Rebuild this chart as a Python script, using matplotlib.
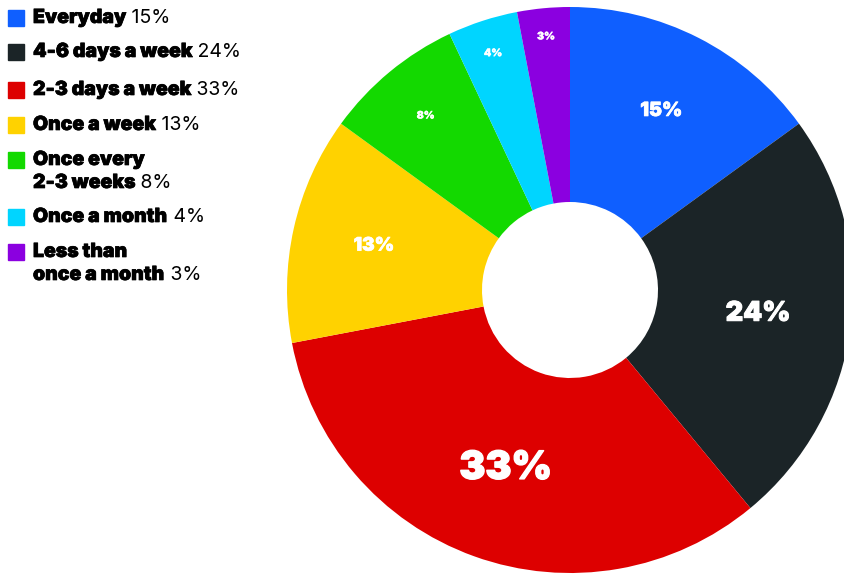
import numpy as np
import matplotlib
matplotlib.use("Agg")
import matplotlib.pyplot as plt
import matplotlib.patheffects as pe
from matplotlib.text import Annotation

labels = ["Everyday", "4-6 days a week", "2-3 days a week", "Once a week",
          "Once every\n2-3 weeks", "Once a month", "Less than\nonce a month"]
values = [15, 24, 33, 13, 8, 4, 3]
colors = ["#0f5fff", "#1b2427", "#dd0000", "#ffd200", "#13d900", "#00d5ff", "#8b00e0"]

# label styling per slice (radius as fraction, font size)
label_r = [0.71, 0.67, 0.67, 0.71, 0.80, 0.88, 0.90]
label_fs = [14, 19.5, 28, 13.5, 7.5, 7.5, 7.5]

W, H = 845, 575
plt.rcParams['font.family'] = ['Inter', 'DejaVu Sans']
fig = plt.figure(figsize=(W / 100, H / 100), dpi=100)

cx, cy, R = 570, 290, 283
ax = fig.add_axes([(cx - R) / W, (H - cy - R) / H, 2 * R / W, 2 * R / H])

ax.pie(values, colors=colors, startangle=90, counterclock=False, radius=1,
       wedgeprops=dict(width=1 - 88 / R, linewidth=0))
ax.set_xlim(-1, 1)
ax.set_ylim(-1, 1)
ax.axis('off')

total = sum(values)
cum = 0
for v, r, fs in zip(values, label_r, label_fs):
    mid = (cum + v / 2) / total * 2 * np.pi
    cum += v
    ax.text(r * np.sin(mid), r * np.cos(mid), f"{v}%", color='white',
            fontsize=fs, fontweight='black', ha='center', va='center',
            path_effects=[pe.withStroke(linewidth=fs / 28, foreground='white')])

# legend, drawn by hand: heavy label followed by regular percent
heavy = [pe.withStroke(linewidth=0.5, foreground='black')]
y = 18
row_gap = [34, 38, 35, 35, 57, 35, 0]
for lab, v, c, gap in zip(labels, values, colors, row_gap):
    fig.patches.append(plt.Rectangle((8 / W, 1 - (y + 8) / H), 16 / W, 16 / H,
                                     transform=fig.transFigure, color=c))
    lines = lab.split("\n")
    for i, ln in enumerate(lines):
        t = fig.text(33 / W, 1 - (y + i * 23) / H, ln, fontsize=14,
                     fontweight='black', va='center', ha='left',
                     path_effects=heavy)
    fig.add_artist(Annotation(f" {v}%", xy=(1, 0.5), xycoords=t,
                              va='center', ha='left', fontsize=14))
    y += gap

fig.savefig("out.png", dpi=100)
